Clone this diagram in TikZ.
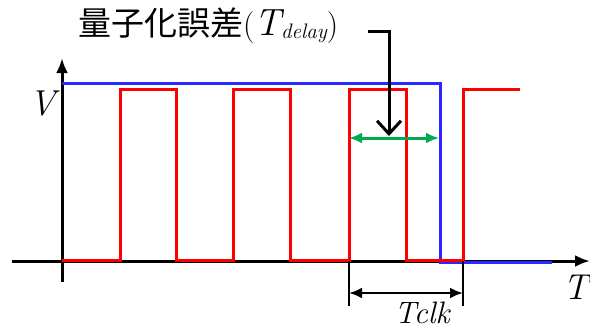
\documentclass[tikz,border=0pt]{standalone}
\usepackage{fontspec}
\newfontfamily\cjkfont{Noto Sans CJK JP}
\usepackage{xcolor}
\usepackage{tikz}
\usetikzlibrary{arrows.meta, positioning}
\definecolor{clkRed}{RGB}{255,0,0}
\definecolor{refBlue}{RGB}{40,40,255}
\definecolor{errGreen}{RGB}{0,170,80}
\tikzstyle{axis} = [line width=3pt, -{Latex[length=15pt,width=12pt]}]
\tikzstyle{wave} = [line width=3pt, line join=miter]
\tikzstyle{dimline} = [line width=2.5pt, {Latex[length=13pt,width=11pt]}-{Latex[length=13pt,width=11pt]}]
\tikzstyle{pointer} = [line width=3pt, -{Straight Barb[length=13pt,width=24pt,line width=3pt]}]
\tikzstyle{axislabel} = [inner sep=0pt, font=\fontsize{36}{42}\selectfont\itshape]

\begin{document}
\begin{tikzpicture}[x=1pt, y=-1pt]
        \useasboundingbox (0,0) rectangle (590,330);

        % axes
        \draw [axis] (12,261) -- (590,261);
        \draw [axis] (62,282) -- (62,58);
        \node (vlabel) [axislabel] at (43,104) {V};
        \node (tlabel) [axislabel] at (576,287) {T};

        % clock and reference signal
        \draw [wave, refBlue] (62,83) -- (440,83) -- (440,262) -- (552,262);
        \draw [wave, clkRed] (62,260) -- (120,260) -- (120,89) -- (176,89) -- (176,260)
            -- (233,260) -- (233,89) -- (290,89) -- (290,260)
            -- (349,260) -- (349,89) -- (406,89) -- (406,260)
            -- (463,260) -- (463,89) -- (520,89);

        % quantization error
        \coordinate (errL) at (349,138);
        \coordinate (errR) at (439,138);
        \draw [dimline, errGreen, line width=3pt] (errL) -- (errR);
        \node (title) [inner sep=0pt, anchor=west] at (78,26)
            {{\cjkfont\fontsize{33}{40}\selectfont 量子化誤差}{\fontsize{32}{38}\selectfont(}{\fontsize{38}{44}\selectfont\itshape T}\raisebox{-3pt}{\fontsize{21}{24}\selectfont\itshape delay}{\fontsize{32}{38}\selectfont)}};
        \coordinate (ptrStart) at (368,31);
        \coordinate (ptrBend) at (389,31);
        \coordinate (ptrEnd) at (389,136);
        \draw [pointer] (ptrStart) -- (ptrBend) -- (ptrEnd);

        % clock period
        \coordinate (clkA) at (349,261);
        \coordinate (clkB) at (463,261);
        \draw [line width=2.5pt] (clkA) -- ++(0,45) coordinate (clkAlow);
        \draw [line width=2.5pt] (clkB) -- ++(0,45) coordinate (clkBlow);
        \draw [dimline] (349,293) -- (463,293);
        \node (tclk) [inner sep=0pt, font=\fontsize{31}{36}\selectfont\itshape] at (422,313) {Tclk};
    \end{tikzpicture}
\end{document}
